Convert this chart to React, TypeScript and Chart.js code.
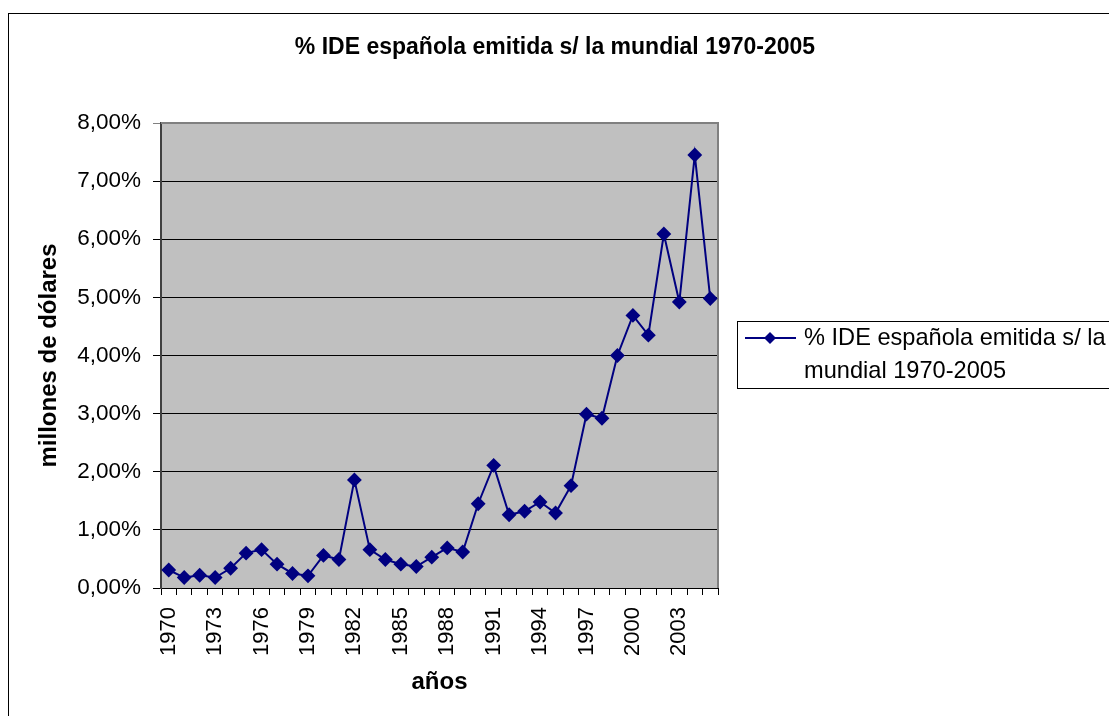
import React, { useEffect, useRef } from "react";
import { Chart, registerables } from "chart.js";

Chart.register(...registerables);

const years = [
  "1970", "1971", "1972", "1973", "1974", "1975", "1976", "1977", "1978", "1979",
  "1980", "1981", "1982", "1983", "1984", "1985", "1986", "1987", "1988", "1989",
  "1990", "1991", "1992", "1993", "1994", "1995", "1996", "1997", "1998", "1999",
  "2000", "2001", "2002", "2003", "2004", "2005",
];

const shownYearLabels = ["1970", "1973", "1976", "1979", "1982", "1985", "1988", "1991", "1994", "1997", "2000", "2003"];

// % values
const idePercent = [
  0.31, 0.18, 0.22, 0.18, 0.34, 0.60, 0.66, 0.41, 0.25, 0.21,
  0.56, 0.49, 1.86, 0.66, 0.49, 0.41, 0.37, 0.53, 0.69, 0.62,
  1.45, 2.11, 1.26, 1.32, 1.48, 1.29, 1.76, 2.99, 2.92, 4.00,
  4.69, 4.35, 6.09, 4.92, 7.45, 4.98,
];

const chartTitle = "% IDE española emitida s/ la mundial 1970-2005";
const legendLines = ["% IDE española emitida s/ la", "mundial 1970-2005"];
const yTitle = "millones de dólares";
const xTitle = "años";

const FONT = "'Liberation Sans', Arial, Helvetica, sans-serif";
const NAVY = "#000080";

const framePlugin = {
  id: "excelFrame",
  beforeDraw(chart: any) {
    const { ctx, chartArea } = chart;
    const { left, top, right, bottom } = chartArea;
    ctx.save();
    ctx.fillStyle = "#ffffff";
    ctx.fillRect(0, 0, chart.width, chart.height);
    ctx.strokeStyle = "#000000";
    ctx.lineWidth = 1;
    ctx.strokeRect(8.5, 13.5, 1200, 800);
    ctx.fillStyle = "#C0C0C0";
    ctx.fillRect(left, top, right - left, bottom - top);
    ctx.restore();
  },
  beforeDatasetsDraw(chart: any) {
    const { ctx, chartArea } = chart;
    const { left, top, right, bottom } = chartArea;
    ctx.save();
    ctx.strokeStyle = "#808080";
    ctx.lineWidth = 2;
    ctx.beginPath();
    ctx.moveTo(left, top);
    ctx.lineTo(right, top);
    ctx.lineTo(right, bottom);
    ctx.stroke();
    ctx.restore();
  },
  afterDraw(chart: any) {
    const { ctx } = chart;
    ctx.save();
    // title
    ctx.fillStyle = "#000";
    ctx.font = `bold 23px ${FONT}`;
    ctx.textAlign = "center";
    ctx.textBaseline = "middle";
    ctx.fillText(chartTitle, 555, 48);
    // legend box
    ctx.fillStyle = "#fff";
    ctx.fillRect(737, 321, 500, 67);
    ctx.strokeStyle = "#000";
    ctx.lineWidth = 1;
    ctx.strokeRect(737.5, 321.5, 500, 67);
    ctx.strokeStyle = NAVY;
    ctx.lineWidth = 2;
    ctx.beginPath();
    ctx.moveTo(745, 338);
    ctx.lineTo(796, 338);
    ctx.stroke();
    ctx.fillStyle = NAVY;
    ctx.beginPath();
    ctx.moveTo(770, 332);
    ctx.lineTo(776, 338);
    ctx.lineTo(770, 344);
    ctx.lineTo(764, 338);
    ctx.closePath();
    ctx.fill();
    ctx.fillStyle = "#000";
    ctx.font = `23.6px ${FONT}`;
    ctx.textAlign = "left";
    ctx.textBaseline = "middle";
    ctx.fillText(legendLines[0], 804, 338);
    ctx.fillText(legendLines[1], 804, 371);
    ctx.restore();
  },
};

export default function App() {
  const canvasRef = useRef<HTMLCanvasElement | null>(null);

  useEffect(() => {
    if (!canvasRef.current) return;
    const chart = new Chart(canvasRef.current, {
      type: "line",
      data: {
        labels: years,
        datasets: [
          {
            label: legendLines.join(" "),
            data: idePercent,
            borderColor: NAVY,
            backgroundColor: NAVY,
            borderWidth: 2,
            pointStyle: "rectRot",
            pointRadius: 6,
            pointHoverRadius: 6,
            pointBackgroundColor: NAVY,
            pointBorderColor: NAVY,
            tension: 0,
          },
        ],
      },
      options: {
        animation: false,
        responsive: true,
        maintainAspectRatio: false,
        layout: { padding: { top: 123, left: 0, right: 391, bottom: 0 } },
        plugins: {
          legend: { display: false },
          title: { display: false },
          tooltip: { enabled: false },
        },
        scales: {
          x: {
            type: "category",
            offset: true,
            afterFit: (scale: any) => {
              scale.height = 128;
            },
            grid: {
              display: true,
              drawOnChartArea: false,
              drawTicks: true,
              offset: true,
              tickLength: 7,
              color: "#000",
            },
            border: { display: true, color: "#000", width: 1 },
            ticks: {
              autoSkip: false,
              maxRotation: 90,
              minRotation: 90,
              padding: 12,
              color: "#000",
              font: { family: FONT, size: 22 },
              callback: function (this: any, value: any, index: number) {
                const lab = years[index];
                return shownYearLabels.includes(lab) ? lab : "";
              },
            },
            title: {
              display: true,
              text: xTitle,
              color: "#000",
              font: { family: FONT, size: 24, weight: "bold" },
              padding: { top: 0, bottom: 19 },
            },
          },
          y: {
            min: 0,
            max: 8,
            afterFit: (scale: any) => {
              scale.width = 161;
            },
            ticks: {
              stepSize: 1,
              padding: 12,
              color: "#000",
              font: { family: FONT, size: 22.5 },
              callback: (v: any) => Number(v).toFixed(2).replace(".", ",") + "%",
            },
            grid: {
              color: (c: any) => (c.tick && c.tick.value === 8 ? "#808080" : "#000"),
              lineWidth: 1,
              tickLength: 8,
              drawTicks: true,
            },
            border: { display: true, color: "#404040", width: 2 },
            title: {
              display: true,
              text: yTitle,
              color: "#000",
              font: { family: FONT, size: 24, weight: "bold" },
              padding: { top: 35, bottom: 0 },
            },
          },
        },
      },
      plugins: [framePlugin],
    });
    return () => chart.destroy();
  }, []);

  return (
    <div style={{ position: "fixed", left: 0, top: 0, width: 1109, height: 716, background: "#fff" }}>
      <canvas ref={canvasRef} />
    </div>
  );
}
